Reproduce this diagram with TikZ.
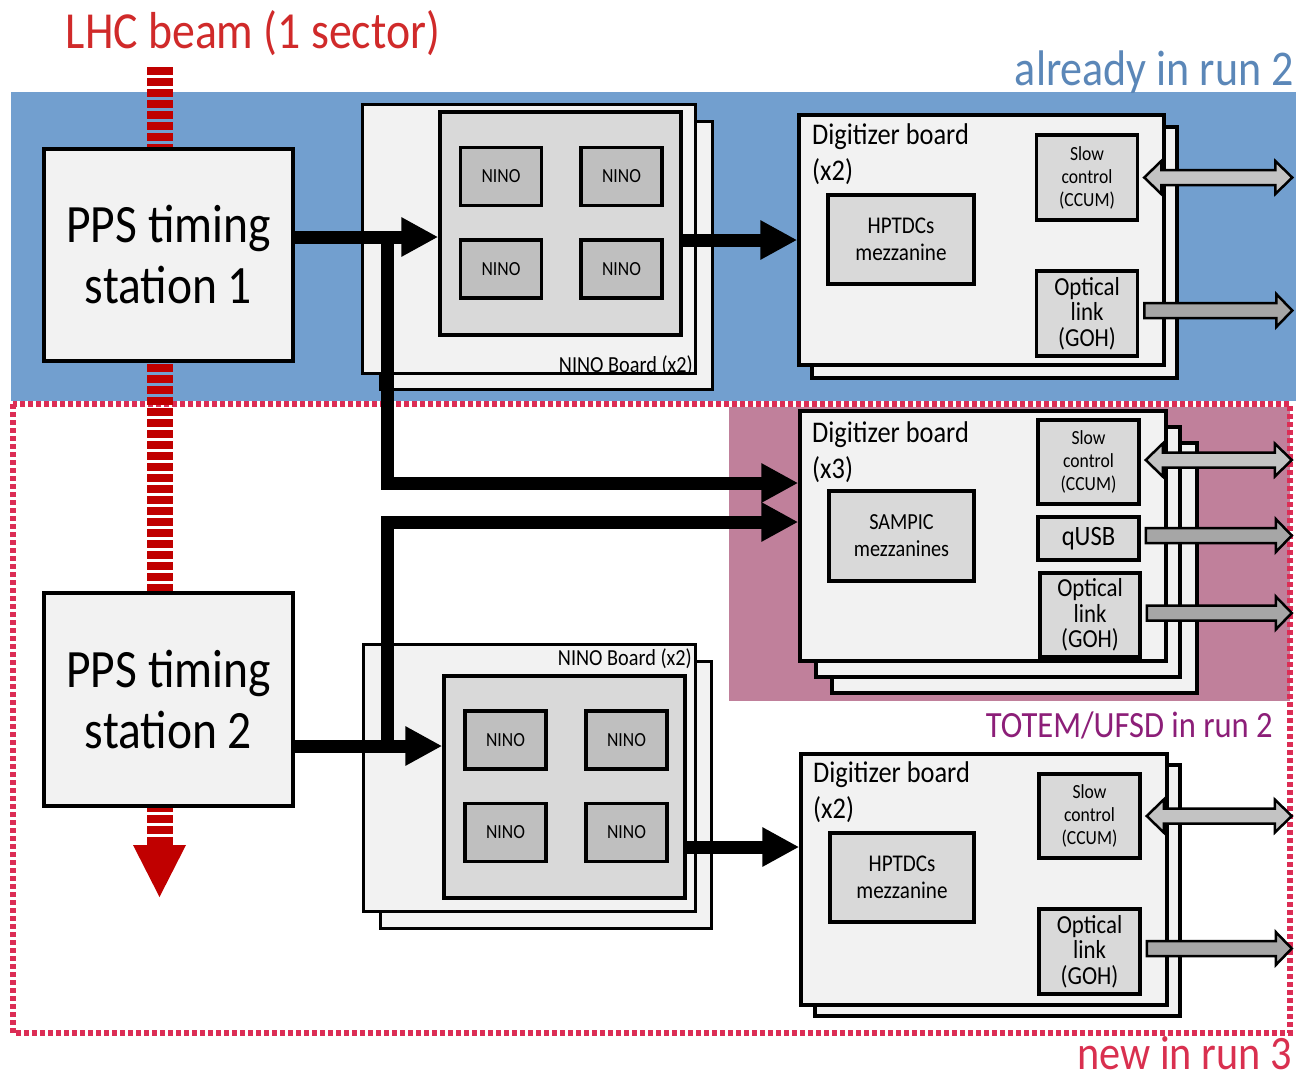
\documentclass[tikz,border=0pt]{standalone}
\usepackage{fontspec}
\setmainfont{Carlito}[FakeStretch=0.88]
\usetikzlibrary{arrows.meta}
\definecolor{bgblue}{HTML}{729FCF}
\definecolor{bgpink}{HTML}{C0809B}
\definecolor{dotred}{HTML}{DC2D55}
\definecolor{beamred}{HTML}{C00000}
\definecolor{titlered}{HTML}{D02A2A}
\definecolor{runblue}{HTML}{5B87B8}
\definecolor{totemcol}{HTML}{8C1E78}
\definecolor{newred}{HTML}{D9304F}
\definecolor{boxlight}{HTML}{F2F2F2}
\definecolor{panelgray}{HTML}{D9D9D9}
\definecolor{chipgray}{HTML}{BFBFBF}
\definecolor{arrlight}{HTML}{C3C3C3}
\definecolor{arrdark}{HTML}{A6A6A6}
\newcommand\dblarr[2]{\draw[grayarr,fill=arrlight] #1 -- ++(17,-16.5) -- ++(0,9) -- ++(#2-34,0) -- ++(0,-9) -- ++(17,16.5) -- ++(-17,16.5) -- ++(0,-9) -- ++(-#2+34,0) -- ++(0,9) -- cycle;}
\newcommand\sglarr[2]{\draw[grayarr,fill=arrdark] #1 ++(0,-7.5) -- ++(#2-16,0) -- ++(0,-9) -- ++(16,16.5) -- ++(-16,16.5) -- ++(0,-9) -- ++(-#2+16,0) -- cycle;}
\tikzset{
  lbox/.style={draw=black, line width=3.5pt, fill=boxlight, inner sep=0pt},
  backbox/.style={draw=black, line width=3pt, fill=boxlight, inner sep=0pt},
  pbox/.style={draw=black, line width=3.5pt, fill=panelgray, inner sep=0pt, align=center},
  chip/.style={draw=black, line width=3.5pt, fill=chipgray, inner sep=0pt, minimum width=81pt, minimum height=58pt, font=\fontsize{20}{22}\selectfont},
  sbox/.style={draw=black, line width=3.5pt, fill=panelgray, inner sep=0pt, align=center, minimum width=101pt},
  bigarrow/.style={line width=13pt, -{Triangle[length=37pt,width=37pt]}},
  grayarr/.style={draw=black, line width=2.5pt, line join=miter},
  beam/.style={draw=beamred, line width=26pt, dash pattern=on 8pt off 3pt},
  dotborder/.style={draw=dotred, line width=5.5pt, dash pattern=on 5pt off 3pt},
  station/.style={lbox, minimum width=249pt, minimum height=212pt, align=center, font=\fontsize{54}{61}\selectfont},
  digtext/.style={anchor=base west, inner sep=0pt, align=left, font=\fontsize{30}{36}\selectfont},
  ninolabel/.style={anchor=base east, inner sep=0pt, font=\fontsize{23}{26}\selectfont},
  sctext/.style={font=\fontsize{20}{23}\selectfont},
  optext/.style={font=\fontsize{26}{25.5}\selectfont},
  mezz/.style={font=\fontsize{24}{27}\selectfont}
}
\begin{document}
\begin{tikzpicture}[x=1pt,y=-1pt]
\useasboundingbox (0,0) rectangle (1296,1077);
\fill[white] (0,0) rectangle (1296,1077);
% regions
\fill[bgblue] (11,92) rectangle (1296,401);
\fill[bgpink] (729,407) rectangle (1290,701);
\draw[dotborder] (13,404) rectangle (1290,1033);
% labels
\node[font=\fontsize{52}{60}\selectfont, text=titlered, anchor=base, inner sep=0pt] (title) at (253,48) {LHC beam (1 sector)};
\node[font=\fontsize{50}{60}\selectfont, text=runblue, anchor=base east, inner sep=0pt] (run2) at (1294,85) {already in run 2};
\node[font=\fontsize{37}{44}\selectfont, text=totemcol, anchor=base east, inner sep=0pt] (totem) at (1273,737) {TOTEM/UFSD in run 2};
\node[font=\fontsize{48}{56}\selectfont, text=newred, anchor=base east, inner sep=0pt] (run3) at (1292,1069) {new in run 3};
% beam
\coordinate (b0) at (160,67);
\coordinate (b1) at (160,846);
\draw[beam] (b0) -- (b1);
\fill[beamred] (133,845) -- (186,845) -- (159.5,897) -- cycle;
% stations
\node[station] (st1) at (168.5,255) {PPS timing\\station 1};
\node[station, minimum height=213pt] (st2) at (168.5,699.5) {PPS timing\\station 2};
% NINO board 1
\node[backbox, minimum width=332pt, minimum height=268pt] (nb1b) at (546,255) {};
\node[backbox, minimum width=333pt, minimum height=269pt] (nb1) at (529,239) {};
\node[pbox, minimum width=241pt, minimum height=223pt] (in1) at (560.5,223.5) {};
\node[chip] (n11) at (501,176.5) {NINO};
\node[chip] (n12) at (621.5,176.5) {NINO};
\node[chip] (n13) at (501,269) {NINO};
\node[chip] (n14) at (621.5,269) {NINO};
\node[ninolabel] (nl1) at (693,372) {NINO Board (x2)};
% NINO board 2
\node[backbox, minimum width=331pt, minimum height=267pt] (nb2b) at (545.5,794.5) {};
\node[backbox, minimum width=332pt, minimum height=267pt] (nb2) at (529,777.5) {};
\node[pbox, minimum width=241pt, minimum height=222pt] (in2) at (564.5,787) {};
\node[chip] (n21) at (505.5,740) {NINO};
\node[chip] (n22) at (626.5,740) {NINO};
\node[chip] (n23) at (505.5,832.5) {NINO};
\node[chip] (n24) at (626.5,832.5) {NINO};
\node[ninolabel] (nl2) at (692,665) {NINO Board (x2)};
% Digitizer 1
\node[lbox, minimum width=365pt, minimum height=251pt] (d1b) at (994.5,252.5) {};
\node[lbox, minimum width=365pt, minimum height=250pt] (d1) at (981.5,240) {};
\node[digtext] (d1t) at (812,180) {Digitizer board\\(x2)};
\node[pbox, mezz, minimum width=146pt, minimum height=89pt] (hp1) at (901,239.5) {HPTDCs\\mezzanine};
\node[sbox, sctext, minimum height=85pt] (sc1) at (1087,177.5) {Slow\\control\\(CCUM)};
\node[sbox, optext, minimum height=85pt] (op1) at (1087,313.5) {Optical\\link\\(GOH)};
% Digitizer 3 (TOTEM)
\node[lbox, minimum width=365pt, minimum height=250pt] (d3c) at (1014.5,568) {};
\node[lbox, minimum width=364pt, minimum height=250pt] (d3b) at (998,552) {};
\node[lbox, minimum width=366pt, minimum height=250pt] (d3) at (983,536) {};
\node[digtext] (d3t) at (812,478) {Digitizer board\\(x3)};
\node[pbox, mezz, font=\fontsize{23}{27}\selectfont, minimum width=145pt, minimum height=90pt] (sp) at (901.5,536) {SAMPIC\\mezzanines};
\node[sbox, sctext, minimum height=84pt] (sc3) at (1088.5,462) {Slow\\control\\(CCUM)};
\node[sbox, font=\fontsize{28}{30}\selectfont, minimum height=43pt] (qu) at (1088.5,538.5) {qUSB};
\node[sbox, optext, minimum width=100pt, minimum height=84pt] (op3) at (1090,615) {Optical\\link\\(GOH)};
% Digitizer 2 (new)
\node[lbox, minimum width=365pt, minimum height=251pt] (d2b) at (997.5,890.5) {};
\node[lbox, minimum width=366pt, minimum height=251pt] (d2) at (984,879.5) {};
\node[digtext] (d2t) at (813,818) {Digitizer board\\(x2)};
\node[pbox, mezz, minimum width=144pt, minimum height=89pt] (hp2) at (902,877.5) {HPTDCs\\mezzanine};
\node[sbox, sctext, minimum height=84pt] (sc2) at (1089.5,816) {Slow\\control\\(CCUM)};
\node[sbox, optext, minimum height=85pt] (op2) at (1089.5,951.5) {Optical\\link\\(GOH)};
% gray arrows
\dblarr{([xshift=5pt]sc1.east)}{148}
\sglarr{([xshift=5pt,yshift=3pt]op1.east)}{148}
\dblarr{([xshift=5pt,yshift=2pt]sc3.east)}{146}
\sglarr{([xshift=5pt,yshift=3pt]qu.east)}{146}
\sglarr{([xshift=5pt,yshift=2pt]op3.east)}{145}
\dblarr{([xshift=5pt]sc2.east)}{145}
\sglarr{([xshift=5pt,yshift=3pt]op2.east)}{145}
% black arrows
\draw[bigarrow] (st1.east |- 0,237) -- (in1.west |- 0,237);
\draw[bigarrow] (in1.east |- 0,240) -- (d1.west |- 0,240);
\coordinate (j1) at (387,237);
\coordinate (j2) at (387,746);
\draw[bigarrow] (j1) |- (d3.west |- 0,483);
\draw[bigarrow] (j2) |- (d3.west |- 0,522);
\draw[bigarrow] (st2.east |- 0,746) -- (in2.west |- 0,746);
\draw[bigarrow] (in2.east |- 0,847) -- (d2.west |- 0,847);
\end{tikzpicture}
\end{document}
